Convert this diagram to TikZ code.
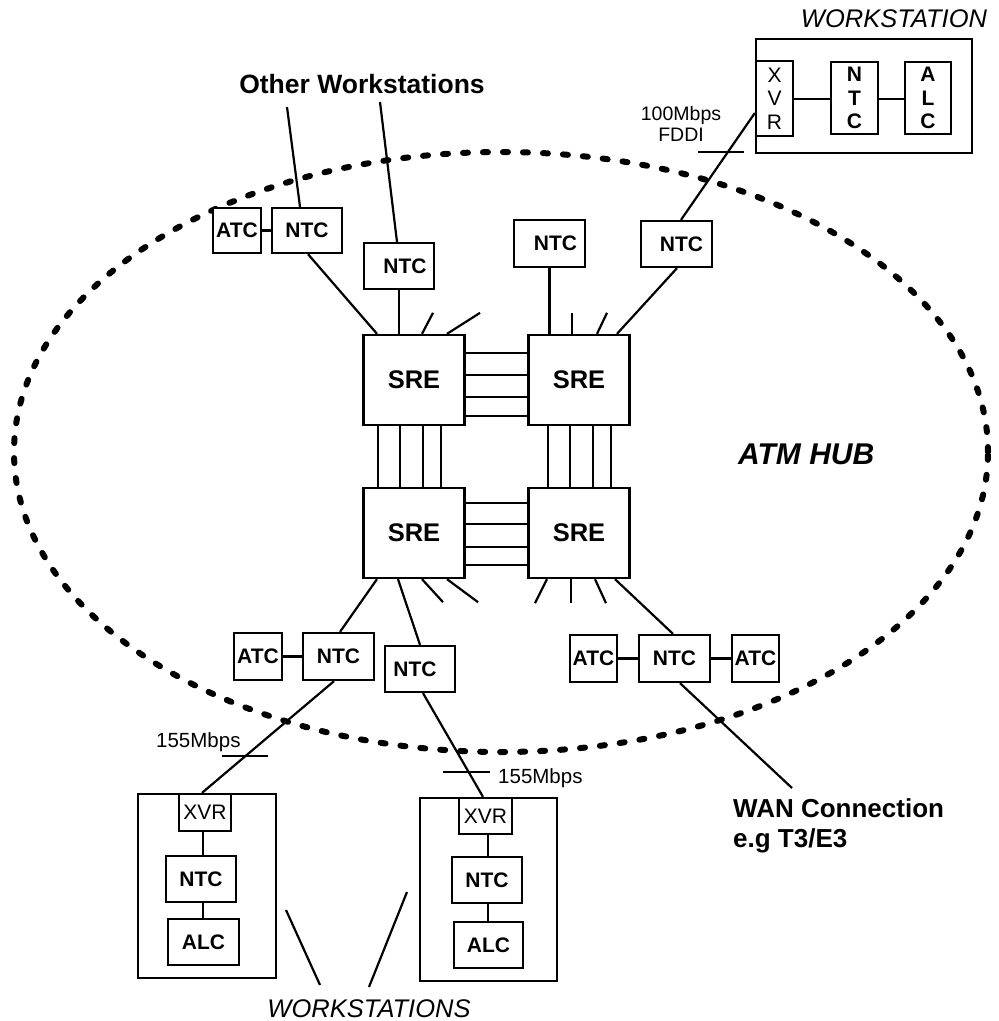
\documentclass[tikz,border=0pt]{standalone}
\usepackage{fontspec}
\setmainfont{Liberation Sans}
\usetikzlibrary{calc}
\begin{document}
\begin{tikzpicture}[x=1pt,y=-1pt,
  bx/.style={draw, line width=2.3pt, fill=white, inner sep=0pt, font=\fontsize{21}{23.5}\selectfont\bfseries},
  rg/.style={draw, line width=2.3pt, fill=white, inner sep=0pt, font=\fontsize{21}{23.5}\selectfont},
  frame/.style={draw, line width=2.3pt, inner sep=0pt},
  ln/.style={line width=2.2pt},
  hub/.style={line width=6pt, line cap=round, dash pattern=on 5pt off 15pt},
  sre/.style={draw, line width=2.3pt, fill=white, inner sep=0pt, minimum width=101pt, minimum height=90pt, font=\fontsize{25.5}{28}\selectfont\bfseries},
  lbl/.style={inner sep=0pt, font=\fontsize{20.5}{22}\selectfont},
  blbl/.style={inner sep=0pt, font=\fontsize{26}{30}\selectfont\bfseries},
  ilbl/.style={inner sep=0pt, font=\fontsize{25.5}{28}\selectfont\itshape}]
\useasboundingbox (0,0) rectangle (999,1021);

% ATM hub boundary
\draw[hub] (501,452) ellipse [x radius=487pt, y radius=300pt];
\node[inner sep=0pt, anchor=base west, font=\fontsize{30}{32}\selectfont\bfseries\itshape] (hubl) at (738,464) {ATM HUB};

% SRE switches
\node[sre] (sreTL) at (414,380) {SRE};
\node[sre] (sreTR) at (579,380) {SRE};
\node[sre] (sreBL) at (414,533) {SRE};
\node[sre] (sreBR) at (579,533) {SRE};
\foreach \yy in {353,375,397,416}{\draw[ln] (sreTL.east |- 0,\yy) -- (sreTR.west |- 0,\yy);}
\foreach \yy in {503,524,547,565}{\draw[ln] (sreBL.east |- 0,\yy) -- (sreBR.west |- 0,\yy);}
\foreach \xx in {378,400,423,441}{\draw[ln] (\xx,0 |- sreTL.south) -- (\xx,0 |- sreBL.north);}
\foreach \xx in {548,570,593,611}{\draw[ln] (\xx,0 |- sreTR.south) -- (\xx,0 |- sreBR.north);}

% stubs
\draw[ln] (422,0 |- sreTL.north) -- ++(11,-21);
\draw[ln] (447,0 |- sreTL.north) -- ++(33,-21);
\draw[ln] (572,0 |- sreTR.north) -- ++(0,-21);
\draw[ln] (597,0 |- sreTR.north) -- ++(10,-21);
\draw[ln] (422,0 |- sreBL.south) -- ++(21,23);
\draw[ln] (447,0 |- sreBL.south) -- ++(31,23);
\draw[ln] (547,0 |- sreBR.south) -- ++(-12,24);
\draw[ln] (571,0 |- sreBR.south) -- ++(0,24);
\draw[ln] (595,0 |- sreBR.south) -- ++(11,24);

% top-left group
\node[bx, minimum width=48pt, minimum height=45pt] (atc1) at (237,230.5) {ATC};
\node[bx, minimum width=70pt, minimum height=45pt] (ntc1) at (307,230.5) {NTC};
\node[bx, minimum width=70pt, minimum height=46pt] (ntc2) at (399,266) {\hspace*{12pt}NTC};
\coordinate (ow1) at (287,107);
\coordinate (ow2) at (380,102);
\draw[ln] (atc1.east) -- (ntc1.west);
\draw[ln] (300,0 |- ntc1.north) -- (ow1);
\draw[ln] (308,0 |- ntc1.south) -- (377,0 |- sreTL.north);
\draw[ln] (397,0 |- ntc2.north) -- (ow2);
\draw[ln] (ntc2.south) -- (ntc2.south |- sreTL.north);
\node[blbl, font=\fontsize{26.5}{30}\selectfont\bfseries, anchor=base] (owl) at (362,93) {Other Workstations};

% top-right group
\node[bx, minimum width=71pt, minimum height=47pt] (ntc3) at (549.5,243.5) {\hspace*{12pt}NTC};
\node[bx, minimum width=71pt, minimum height=46pt] (ntc4) at (676.5,244) {\hspace*{10pt}NTC};
\draw[ln] (ntc3.south) -- (ntc3.south |- sreTR.north);
\draw[ln] (677,0 |- ntc4.south) -- (617,0 |- sreTR.north);

% top-right workstation
\node[frame, minimum width=216pt, minimum height=114pt] (ws0) at (864,96) {};
\node[rg, minimum width=37pt, minimum height=75pt, align=center] (xvr1) at (774.5,98.5) {X\\V\\R};
\node[bx, minimum width=47pt, minimum height=72pt, align=center] (ntcv) at (854.5,98) {N\\T\\C};
\node[bx, minimum width=46pt, minimum height=72pt, align=center] (alcv) at (928,98) {A\\L\\C};
\draw[ln] (xvr1.east |- 0,99) -- (ntcv.west |- 0,99);
\draw[ln] (ntcv.east |- 0,99) -- (alcv.west |- 0,99);
\draw[ln] (681,0 |- ntc4.north) -- (xvr1.west |- 0,113);
\node[ilbl, anchor=base] (wsl0) at (894,27) {WORKSTATION};
\node[lbl, font=\fontsize{19.5}{21}\selectfont, anchor=base] (fd1) at (681,120) {100Mbps};
\node[lbl, font=\fontsize{19.5}{21}\selectfont, anchor=base] (fd2) at (681,141) {FDDI};
\draw[ln] (698,152) -- (744,152);

% bottom-left group
\node[bx, minimum width=48pt, minimum height=47pt] (atc2) at (258,656.5) {ATC};
\node[bx, minimum width=71pt, minimum height=47pt] (ntc5) at (338.5,656.5) {NTC};
\node[bx, minimum width=70pt, minimum height=46pt] (ntc6) at (420,669) {NTC\hspace*{10pt}};
\draw[ln] (atc2.east) -- (ntc5.west);
\draw[ln] (377,0 |- sreBL.south) -- (340,0 |- ntc5.north);
\draw[ln] (398,0 |- sreBL.south) -- (420,0 |- ntc6.north);

% workstation 1
\node[frame, minimum width=138pt, minimum height=184pt] (ws1) at (207,886) {};
\node[rg, minimum width=52pt, minimum height=37pt] (xvr2) at (205,812.5) {XVR};
\node[bx, minimum width=70pt, minimum height=46pt] (ntc8) at (201,879) {NTC};
\node[bx, minimum width=71pt, minimum height=46pt] (alc1) at (203.5,942) {ALC};
\draw[ln] (203,0 |- xvr2.south) -- (203,0 |- ntc8.north);
\draw[ln] (203,0 |- ntc8.south) -- (203,0 |- alc1.north);

% workstation 2
\node[frame, minimum width=137pt, minimum height=183pt] (ws2) at (488.5,889.5) {};
\node[rg, minimum width=53pt, minimum height=36pt] (xvr3) at (485.5,816) {XVR};
\node[bx, minimum width=70pt, minimum height=46pt] (ntc9) at (487,880) {NTC};
\node[bx, minimum width=69pt, minimum height=46pt] (alc2) at (488.5,945) {ALC};
\draw[ln] (488,0 |- xvr3.south) -- (488,0 |- ntc9.north);
\draw[ln] (488,0 |- ntc9.south) -- (488,0 |- alc2.north);

\draw[ln] (334,0 |- ntc5.south) -- (202,0 |- xvr2.north);
\draw[ln] (423,0 |- ntc6.south) -- (483,0 |- xvr3.north);
\draw[ln] (222,756) -- (268,756);
\node[lbl, anchor=base west] (r1) at (156,747) {155Mbps};
\draw[ln] (443,772) -- (490,772);
\node[lbl, anchor=base west] (r2) at (498,783) {155Mbps};

\node[ilbl, anchor=base] (wsl) at (369,1017) {WORKSTATIONS};
\draw[ln] (286,910) -- (320,985);
\draw[ln] (407,892) -- (369,987);

% bottom-right group
\node[bx, minimum width=47pt, minimum height=47pt] (atc3) at (593.5,658.5) {ATC};
\node[bx, minimum width=71pt, minimum height=47pt] (ntc7) at (674.5,658.5) {NTC};
\node[bx, minimum width=47pt, minimum height=47pt] (atc4) at (755.5,658.5) {ATC};
\draw[ln] (atc3.east) -- (ntc7.west);
\draw[ln] (ntc7.east) -- (atc4.west);
\draw[ln] (615,0 |- sreBR.south) -- (673,0 |- ntc7.north);
\coordinate (wan) at (792,788);
\draw[ln] (680,0 |- ntc7.south) -- (wan);
\node[blbl, anchor=base west] (wan1) at (733,817) {WAN Connection};
\node[blbl, anchor=base west] (wan2) at (733,847) {e.g T3/E3};
\end{tikzpicture}
\end{document}
